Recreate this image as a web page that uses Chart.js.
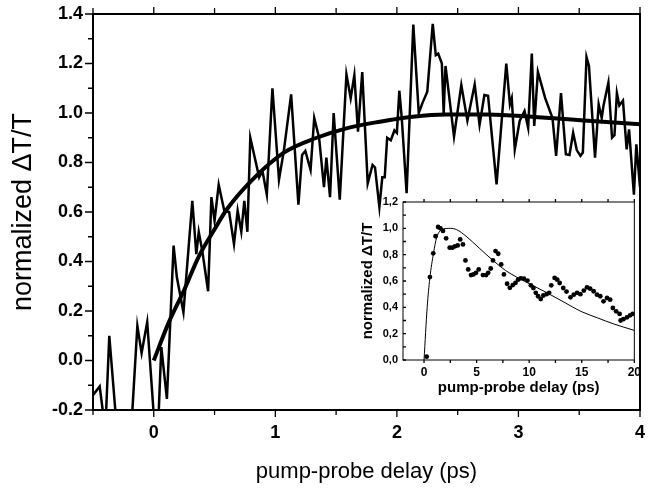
<!DOCTYPE html>
<html>
<head>
<meta charset="utf-8">
<script src="https://cdn.jsdelivr.net/npm/chart.js@4.4.1/dist/chart.umd.min.js"></script>
<style>
  body { margin: 0; background: #fff; }
  #wrap { position: relative; width: 649px; height: 491px; }
  #main { position: absolute; left: 0; top: 0; }
  #inset { position: absolute; left: 350px; top: 190px; }
</style>
</head>
<body>
<div id="wrap">
  <canvas id="main" width="649" height="491"></canvas>
  <canvas id="inset" width="293" height="210"></canvas>
</div>
<script>
// main panel: measured trace (delay in ps, normalized dT/T)
const dataT = [-0.5, -0.445, -0.415, -0.4, -0.366, -0.31, -0.27, -0.2, -0.135, -0.1, -0.054, 0, 0.025, 0.062, 0.108,
  0.163, 0.19, 0.244, 0.317, 0.35, 0.37, 0.4, 0.447, 0.474, 0.5, 0.534, 0.58, 0.62, 0.66, 0.69, 0.72, 0.745, 0.77,
  0.794, 0.867, 0.894, 0.93, 0.976, 1.03, 1.07, 1.13, 1.19, 1.22, 1.247, 1.29, 1.32, 1.36, 1.4, 1.42, 1.45, 1.48,
  1.53, 1.585, 1.62, 1.65, 1.68, 1.715, 1.76, 1.8, 1.82, 1.856, 1.88, 1.9, 1.92, 1.95, 1.98, 2.0, 2.02, 2.04, 2.08,
  2.135, 2.18, 2.21, 2.25, 2.295, 2.32, 2.34, 2.37, 2.385, 2.4, 2.47, 2.53, 2.58, 2.64, 2.68, 2.72, 2.75, 2.82, 2.9,
  2.93, 2.945, 2.97, 3.01, 3.05, 3.08, 3.11, 3.13, 3.16, 3.22, 3.28, 3.31, 3.35, 3.39, 3.42, 3.45, 3.48, 3.51, 3.53,
  3.56, 3.58, 3.63, 3.66, 3.685, 3.7, 3.74, 3.77, 3.79, 3.81, 3.83, 3.86, 3.89, 3.91, 3.95, 3.97, 4.0];
const dataY = [-0.14, -0.105, -0.22, -0.3, 0.1, -0.24, -0.42, -0.4, 0.14, 0.03, 0.155, -0.22, -0.4, 0.054, -0.155,
  0.464, 0.336, 0.195, 0.645, 0.43, 0.52, 0.44, 0.28, 0.66, 0.565, 0.71, 0.605, 0.6, 0.47, 0.605, 0.52, 0.645, 0.52,
  0.9, 0.74, 0.766, 0.67, 1.1, 0.73, 0.847, 1.075, 0.63, 0.83, 0.847, 0.77, 0.98, 0.9, 0.7, 0.82, 0.66, 1.0,
  0.65, 1.156, 1.06, 1.153, 0.925, 1.165, 0.716, 0.79, 0.78, 0.62, 0.74, 0.74, 0.9, 0.89, 0.93, 0.92, 1.09, 0.98, 0.676,
  1.357, 1.0, 1.04, 1.086, 1.36, 1.234, 1.24, 1.2, 1.0, 1.19, 0.905, 1.113, 0.97, 1.115, 0.952, 1.073, 1.07, 0.712, 1.2,
  1.035, 1.06, 0.853, 0.968, 1.008, 0.94, 1.24, 0.948, 1.166, 1.06, 0.98, 0.827, 1.08, 0.833, 0.83, 0.92, 0.85, 0.827, 0.84,
  1.226, 1.19, 0.82, 1.035, 0.98, 1.03, 1.123, 0.9, 0.91, 1.08, 1.03, 1.05, 0.853, 0.934, 0.67, 0.873, 0.7];

// main panel: fitted curve
const fitT = [0, 0.12, 0.25, 0.37, 0.5, 0.6, 0.8, 1.07, 1.34, 1.6, 1.86, 2.13, 2.4, 2.75, 3.13, 3.54, 4];
const fitY = [0, 0.15, 0.285, 0.42, 0.53, 0.61, 0.725, 0.84, 0.9, 0.94, 0.965, 0.985, 0.994, 0.994, 0.984, 0.97, 0.955];

// main panel ticks
const mainXTicks = [-0.5, 0, 0.5, 1, 1.5, 2, 2.5, 3, 3.5, 4];
const mainXLabels = ['', '0', '', '1', '', '2', '', '3', '', '4'];
const mainYTicks = [-0.2, -0.1, 0, 0.1, 0.2, 0.3, 0.4, 0.5, 0.6, 0.7, 0.8, 0.9, 1.0, 1.1, 1.2, 1.3, 1.4];
const mainYLabels = ['-0.2', '', '0.0', '', '0.2', '', '0.4', '', '0.6', '', '0.8', '', '1.0', '', '1.2', '', '1.4'];

// inset: longer scan (dots) and model curve
const insetT = [0.25, 0.56, 0.875, 1.1, 1.34, 1.56, 1.8, 2.1, 2.44, 2.7, 2.94, 3.2, 3.44, 3.7, 3.94, 4.2, 4.47, 4.7,
  4.94, 5.2, 5.6, 5.9, 6.1, 6.34, 6.56, 6.8, 7.06, 7.34, 7.6, 7.9, 8.16, 8.44, 8.7, 8.94, 9.2, 9.5, 9.84, 10.16,
  10.4, 10.63, 10.85, 11.1, 11.35, 11.66, 11.9, 12.1, 12.42, 12.67, 12.9, 13.24, 13.55, 13.93, 14.24, 14.56, 14.87,
  15.2, 15.5, 15.8, 16.13, 16.45, 16.76, 17.07, 17.4, 17.7, 17.96, 18.27, 18.6, 18.7, 18.96, 19.3, 19.6, 19.84];
const insetY = [0.025, 0.63, 0.81, 0.94, 1.01, 1.0, 0.98, 0.924, 0.853, 0.853, 0.863, 0.87, 0.916, 0.878, 0.756, 0.688,
  0.645, 0.65, 0.662, 0.688, 0.645, 0.645, 0.662, 0.695, 0.756, 0.827, 0.807, 0.726, 0.65, 0.579, 0.548, 0.569, 0.586,
  0.61, 0.62, 0.618, 0.603, 0.567, 0.547, 0.51, 0.484, 0.463, 0.49, 0.5, 0.51, 0.567, 0.623, 0.61, 0.585, 0.547, 0.52,
  0.476, 0.496, 0.51, 0.5, 0.527, 0.552, 0.542, 0.522, 0.496, 0.484, 0.446, 0.471, 0.458, 0.395, 0.37, 0.35, 0.3,
  0.31, 0.324, 0.339, 0.35];
const insetFitT = [0, 0.3, 0.55, 0.9, 1.2, 1.7, 2.5, 3.1, 4, 5.25, 6.5, 7.75, 8.8, 10, 11.7, 13.3, 14.9, 16.5, 18, 20];
const insetFitY = [0, 0.4, 0.62, 0.81, 0.93, 0.99, 1.0, 0.99, 0.94, 0.85, 0.76, 0.68, 0.63, 0.58, 0.51, 0.44, 0.37, 0.32, 0.275, 0.225];

const insetXTicks = [0, 2.5, 5, 7.5, 10, 12.5, 15, 17.5, 20];
const insetXLabels = ['0', '', '5', '', '10', '', '15', '', '20'];
const insetYTicks = [0, 0.1, 0.2, 0.3, 0.4, 0.5, 0.6, 0.7, 0.8, 0.9, 1.0, 1.1, 1.2];
const insetYLabels = ['0,0', '', '0,2', '', '0,4', '', '0,6', '', '0,8', '', '1,0', '', '1,2'];

const FONT = "'Liberation Sans', Arial, sans-serif";
const zip = (xs, ys) => xs.map((x, i) => ({ x: x, y: ys[i] }));

// box around the plot area plus the tick marks (drawn through the scales)
function frameTicks(id, frameWidth, marks) {
  return {
    id: id,
    afterDraw(chart) {
      const { ctx, chartArea: a, scales } = chart;
      ctx.save();
      ctx.strokeStyle = '#000';
      ctx.lineWidth = frameWidth;
      ctx.strokeRect(a.left, a.top, a.right - a.left, a.bottom - a.top);
      ctx.lineWidth = 1.3;
      ctx.beginPath();
      marks.forEach(m => {
        const scale = scales[m.axis];
        m.values.forEach((v, i) => {
          const p = scale.getPixelForValue(v);
          const len = m.labels[i] ? m.major : m.minor;
          const d = m.out ? -len : len;
          if (m.side === 'left') { ctx.moveTo(a.left, p); ctx.lineTo(a.left + d, p); }
          if (m.side === 'top') { ctx.moveTo(p, a.top); ctx.lineTo(p, a.top - d); }
          if (m.side === 'bottom') { ctx.moveTo(p, a.bottom); ctx.lineTo(p, a.bottom - d); }
        });
      });
      ctx.stroke();
      ctx.restore();
    }
  };
}

new Chart(document.getElementById('main'), {
  type: 'scatter',
  data: {
    datasets: [
      {
        label: 'fit',
        data: zip(fitT, fitY),
        showLine: true,
        borderColor: '#000',
        borderWidth: 4,
        pointRadius: 0,
        cubicInterpolationMode: 'monotone'
      },
      {
        label: 'data',
        data: zip(dataT, dataY),
        showLine: true,
        borderColor: '#000',
        borderWidth: 2.5,
        pointRadius: 0,
        tension: 0
      }
    ]
  },
  options: {
    responsive: false,
    animation: false,
    layout: { padding: { left: 0, top: 14, right: 4, bottom: 0 } },
    plugins: { legend: { display: false }, tooltip: { enabled: false } },
    scales: {
      x: {
        type: 'linear',
        min: -0.5,
        max: 4,
        afterBuildTicks: s => { s.ticks = mainXTicks.map(v => ({ value: v })); },
        afterFit: s => { s.height = 81; },
        ticks: {
          autoSkip: false, maxRotation: 0, padding: 4, color: '#000',
          font: { family: FONT, size: 18, weight: 'bold' },
          callback: (v, i) => mainXLabels[i]
        },
        grid: { display: false, drawTicks: true, tickLength: 8 },
        border: { display: false },
        title: {
          display: true, text: 'pump-probe delay (ps)', color: '#000',
          font: { family: FONT, size: 22 }, padding: { top: 0, bottom: 6 }
        }
      },
      y: {
        type: 'linear',
        min: -0.2,
        max: 1.4,
        afterBuildTicks: s => { s.ticks = mainYTicks.map(v => ({ value: v })); },
        afterFit: s => { s.width = 93; },
        ticks: {
          autoSkip: false, padding: 2, color: '#000',
          font: { family: FONT, size: 18, weight: 'bold' },
          callback: (v, i) => mainYLabels[i]
        },
        grid: { display: false, drawTicks: true, tickLength: 8 },
        border: { display: false },
        title: {
          display: true, text: 'normalized \u0394T/T', color: '#000',
          font: { family: FONT, size: 27 }, padding: { top: 7, bottom: 0 }
        }
      }
    }
  },
  plugins: [frameTicks('mainFrame', 2, [
    { axis: 'y', side: 'left', out: true, values: mainYTicks, labels: mainYLabels, major: 8, minor: 5 },
    { axis: 'x', side: 'bottom', out: true, values: mainXTicks, labels: mainXLabels, major: 7, minor: 5 },
    { axis: 'x', side: 'top', out: false, values: mainXTicks, labels: mainXLabels, major: 7, minor: 6 }
  ])]
});

const whiteArea = {
  id: 'whiteArea',
  beforeDraw(chart) {
    const { ctx, chartArea: a } = chart;
    ctx.save();
    ctx.fillStyle = '#fff';
    ctx.fillRect(a.left, a.top, a.right - a.left, a.bottom - a.top);
    ctx.restore();
  }
};

new Chart(document.getElementById('inset'), {
  type: 'scatter',
  data: {
    datasets: [
      {
        label: 'model',
        data: zip(insetFitT, insetFitY),
        showLine: true,
        borderColor: '#000',
        borderWidth: 1,
        pointRadius: 0,
        cubicInterpolationMode: 'monotone'
      },
      {
        label: 'scan',
        data: zip(insetT, insetY),
        showLine: false,
        backgroundColor: '#000',
        borderColor: '#000',
        pointRadius: 2.4,
        pointBorderWidth: 0
      }
    ]
  },
  options: {
    responsive: false,
    animation: false,
    layout: { padding: { left: 0, top: 12, right: 8, bottom: 0 } },
    plugins: { legend: { display: false }, tooltip: { enabled: false } },
    scales: {
      x: {
        type: 'linear',
        min: -2,
        max: 20,
        afterBuildTicks: s => { s.ticks = insetXTicks.map(v => ({ value: v })); },
        afterFit: s => { s.height = 40; },
        ticks: {
          autoSkip: false, maxRotation: 0, padding: 2, color: '#000',
          font: { family: FONT, size: 12, weight: 'bold' },
          callback: (v, i) => insetXLabels[i]
        },
        grid: { display: false, drawTicks: true, tickLength: 3 },
        border: { display: false },
        title: {
          display: true, text: 'pump-probe delay (ps)', color: '#000',
          font: { family: FONT, size: 15, weight: 'bold' }, padding: { top: 0, bottom: 3 }
        }
      },
      y: {
        type: 'linear',
        min: 0,
        max: 1.2,
        afterBuildTicks: s => { s.ticks = insetYTicks.map(v => ({ value: v })); },
        afterFit: s => { s.width = 53; },
        ticks: {
          autoSkip: false, padding: 2, color: '#000',
          font: { family: FONT, size: 11, weight: 'bold' },
          callback: (v, i) => insetYLabels[i]
        },
        grid: { display: false, drawTicks: true, tickLength: 3 },
        border: { display: false },
        title: {
          display: true, text: 'normalized \u0394T/T', color: '#000',
          font: { family: FONT, size: 15, weight: 'bold' }, padding: { top: 9, bottom: 0 }
        }
      }
    }
  },
  plugins: [whiteArea, frameTicks('insetFrame', 1, [
    { axis: 'y', side: 'left', out: false, values: insetYTicks, labels: insetYLabels, major: 3, minor: 3 },
    { axis: 'x', side: 'bottom', out: true, values: insetXTicks, labels: insetXLabels, major: 3, minor: 3 },
    { axis: 'x', side: 'top', out: false, values: insetXTicks, labels: insetXLabels, major: 3, minor: 3 }
  ])]
});
</script>
</body>
</html>
